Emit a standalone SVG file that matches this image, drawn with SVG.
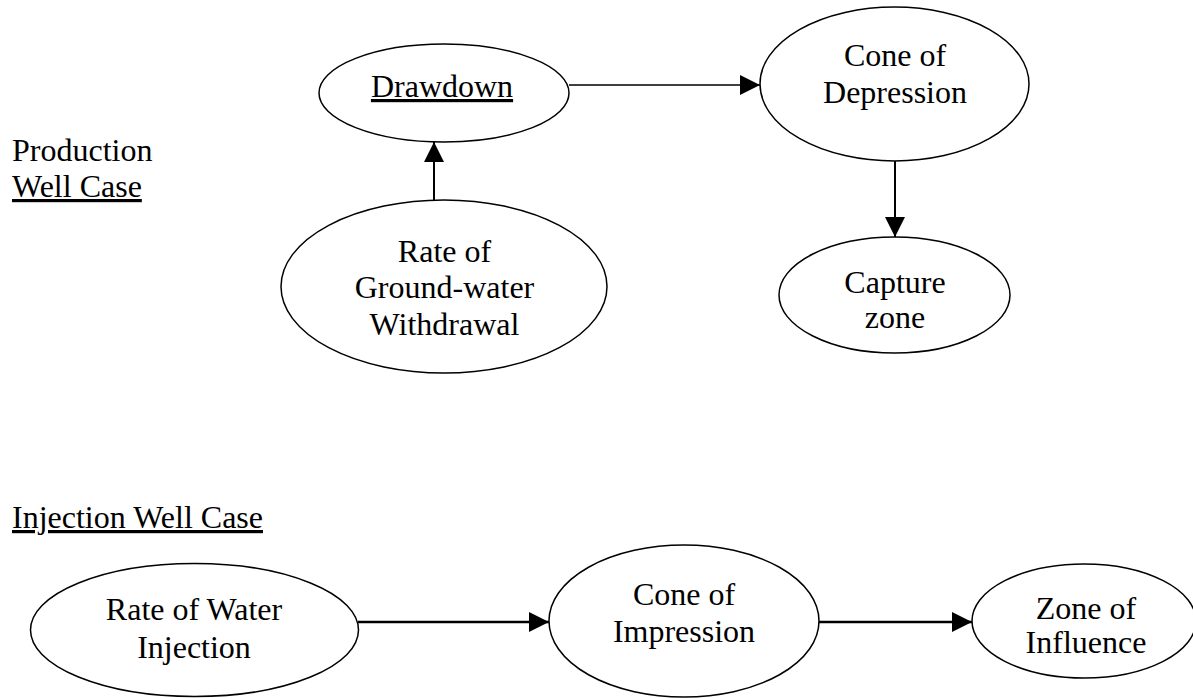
<svg xmlns="http://www.w3.org/2000/svg" width="1193" height="698" viewBox="0 0 1193 698">
<style>
.n{fill:#fff;stroke:#000;stroke-width:1.5}
.t{font-family:"Liberation Serif","Times New Roman",serif;font-size:32px;fill:#000}
.c{stroke:#000;stroke-width:2;fill:none}
.thin{stroke-width:1.6}
.thick{stroke-width:2.5}
.u{text-decoration:underline}
</style>
<defs>
<marker id="ah" markerUnits="userSpaceOnUse" markerWidth="20" markerHeight="20" refX="20" refY="10" orient="auto">
<path d="M0,0 L20,10 L0,20 z" fill="#000"/>
</marker>
</defs>
<rect width="1193" height="698" fill="#fff"/>
<g id="label-production">
<text class="t" x="12" y="161">Production</text>
<text class="t u" x="12" y="197">Well Case</text>
</g>
<g id="label-injection">
<text class="t u" x="12" y="528">Injection Well Case</text>
</g>
<g id="connectors">
<line class="c" x1="434" y1="200" x2="434" y2="142" marker-end="url(#ah)"/>
<line class="c thin" x1="569" y1="85" x2="760" y2="85" marker-end="url(#ah)"/>
<line class="c" x1="895" y1="161" x2="895" y2="237" marker-end="url(#ah)"/>
<line class="c thick" x1="358" y1="622" x2="549" y2="622" marker-end="url(#ah)"/>
<line class="c thick" x1="818" y1="622" x2="972" y2="622" marker-end="url(#ah)"/>
</g>
<g id="drawdown">
<ellipse class="n" cx="444" cy="93" rx="125" ry="49"/>
<text class="t u" x="442" y="97" text-anchor="middle">Drawdown</text>
</g>
<g id="rate-withdrawal">
<ellipse class="n" cx="444" cy="286.5" rx="163" ry="86.5"/>
<text class="t" x="444.5" y="262" text-anchor="middle">Rate of</text>
<text class="t" x="444.5" y="298" text-anchor="middle">Ground-water</text>
<text class="t" x="444.5" y="335" text-anchor="middle">Withdrawal</text>
</g>
<g id="cone-depression">
<ellipse class="n" cx="894.5" cy="84" rx="134.5" ry="77"/>
<text class="t" x="895" y="66" text-anchor="middle">Cone of</text>
<text class="t" x="895" y="103" text-anchor="middle">Depression</text>
</g>
<g id="capture-zone">
<ellipse class="n" cx="894.5" cy="295" rx="115.5" ry="58"/>
<text class="t" x="895" y="293" text-anchor="middle">Capture</text>
<text class="t" x="895" y="328" text-anchor="middle">zone</text>
</g>
<g id="rate-injection">
<ellipse class="n" cx="194.5" cy="630" rx="164" ry="66.5"/>
<text class="t" x="194" y="620" text-anchor="middle">Rate of Water</text>
<text class="t" x="194" y="658" text-anchor="middle">Injection</text>
</g>
<g id="cone-impression">
<ellipse class="n" cx="684" cy="621" rx="135" ry="76"/>
<text class="t" x="684" y="605" text-anchor="middle">Cone of</text>
<text class="t" x="684" y="642" text-anchor="middle">Impression</text>
</g>
<g id="zone-influence">
<ellipse class="n" cx="1084" cy="621" rx="112" ry="57"/>
<text class="t" x="1086" y="619" text-anchor="middle">Zone of</text>
<text class="t" x="1086" y="653" text-anchor="middle">Influence</text>
</g>
</svg>
